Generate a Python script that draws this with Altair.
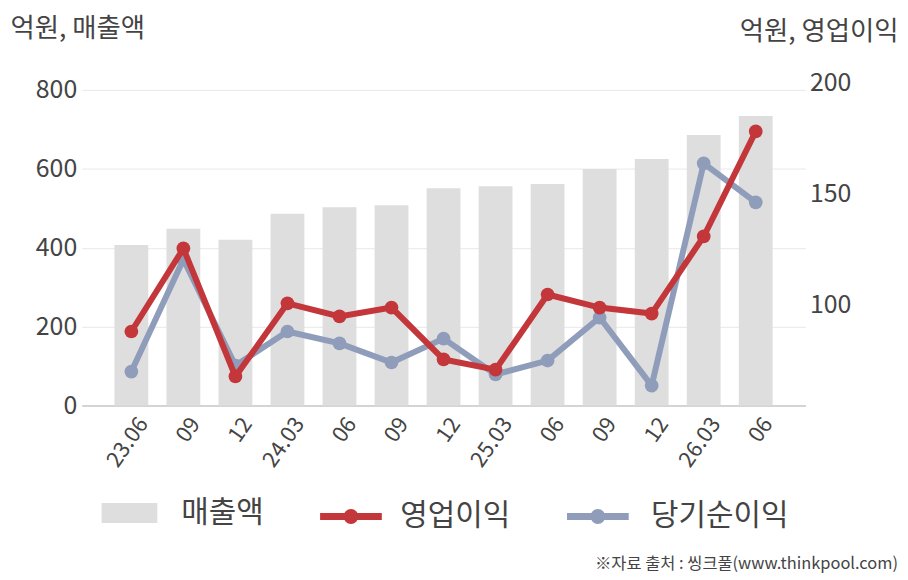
import altair as alt
import pandas as pd

FONT = "Noto Sans CJK KR"
TXT = "#444444"

quarters = ["2023.06", "2023.09", "2023.12", "2024.03", "2024.06", "2024.09", "2024.12",
            "2025.03", "2025.06", "2025.09", "2025.12", "2026.03", "2026.06"]
tick_labels = ["23.06", "09", "12", "24.03", "06", "09", "12",
               "25.03", "06", "09", "12", "26.03", "06"]
sales = [407, 448, 420, 486, 503, 508, 551, 556, 562, 600, 625, 686, 734]
op_profit = [87.8, 125.3, 67.5, 100.5, 94.6, 98.6, 75.2, 70.6, 104.5, 98.6, 95.9, 130.7, 178.1]
net_income = [69.7, 120.3, 72.4, 87.8, 82.4, 73.8, 84.6, 68.4, 74.7, 94.1, 63.4, 163.7, 146.1]
left_ticks = [0, 200, 400, 600, 800]
right_ticks = [100, 150, 200]

C_BAR = "#dedede"
C_OP = "#c3373a"
C_NI = "#8f9dbb"

df_bar = pd.DataFrame({"quarter": quarters, "value": sales, "series": "매출액"})
df_op = pd.DataFrame({"quarter": quarters, "value": op_profit, "series": "영업이익"})
df_ni = pd.DataFrame({"quarter": quarters, "value": net_income, "series": "당기순이익"})

q_js = "[" + ",".join("'%s'" % q for q in quarters) + "]"
l_js = "[" + ",".join("'%s'" % l for l in tick_labels) + "]"

x_enc = alt.X(
    "quarter:N",
    sort=quarters,
    scale=alt.Scale(domain=quarters, paddingInner=0.35, paddingOuter=0.63),
    axis=alt.Axis(
        title=None,
        labelExpr=l_js + "[indexof(" + q_js + ", datum.value)]",
        labelAngle=-55,
        labelAlign="right",
        labelBaseline="middle",
        labelFontSize=22,
        labelFont=FONT,
        labelColor=TXT,
        labelPadding=14,
        labelOffset=12,
        ticks=False,
        grid=False,
        domainColor="#b5b5b5",
        domainWidth=1,
    ),
)

RECT_PATH = "M-1,-0.357H1V0.357H-1Z"
LINE_DOT = "M-1,0H1M-0.13,0A0.13,0.13,0,1,0,0.13,0A0.13,0.13,0,1,0,-0.13,0Z"

def legend_for(x, y, path, size, sw, color, offset):
    return alt.Legend(
        title=None,
        orient="none",
        legendX=x,
        legendY=y,
        padding=0,
        symbolType=path,
        symbolSize=size,
        symbolStrokeWidth=sw,
        symbolFillColor=color,
        symbolStrokeColor=color,
        symbolOpacity=1,
        labelFontSize=30,
        labelFont=FONT,
        labelColor=TXT,
        labelOffset=offset,
        labelLimit=300,
    )

bars = alt.Chart(df_bar).mark_bar().encode(
    x=x_enc,
    y=alt.Y(
        "value:Q",
        scale=alt.Scale(domain=[0, 818], nice=False, zero=True),
        axis=alt.Axis(
            values=left_ticks,
            grid=True,
            gridColor="#e8e8e8",
            domain=False,
            ticks=False,
            labelFontSize=25,
            labelFont=FONT,
            labelColor=TXT,
            labelPadding=5,
            title="억원, 매출액",
            titleAngle=0,
            titleAlign="left",
            titleBaseline="middle",
            titleX=-72,
            titleY=-55,
            titleFontSize=26.5,
            titleFont=FONT,
            titleFontWeight="normal",
            titleColor=TXT,
        ),
    ),
    color=alt.Color("series:N", scale=alt.Scale(domain=["매출액"], range=[C_BAR]),
                    legend=legend_for(20, 404, RECT_PATH, 3136, 0, C_BAR, 24)),
)

y_right = alt.Scale(domain=[54.4, 200], nice=False, zero=False)

def series_layer(df, color, legend, axis):
    col = alt.Color("series:N", scale=alt.Scale(domain=[df["series"][0]], range=[color]),
                    legend=legend)
    y = alt.Y("value:Q", scale=y_right, axis=axis)
    line = alt.Chart(df).mark_line(strokeWidth=6).encode(x=x_enc, y=y, color=col)
    pts = alt.Chart(df).mark_point(filled=True, size=190, opacity=1).encode(x=x_enc, y=y, color=col)
    return alt.layer(line, pts)

right_axis = alt.Axis(
    orient="right",
    values=right_ticks,
    grid=False,
    domain=False,
    ticks=False,
    labelFontSize=25,
    labelFont=FONT,
    labelColor=TXT,
    labelPadding=4,
    title="억원, 영업이익",
    titleAngle=0,
    titleAlign="right",
    titleBaseline="middle",
    titleX=93,
    titleY=-52,
    titleFontSize=26.5,
    titleFont=FONT,
    titleFontWeight="normal",
    titleColor=TXT,
)

ni_layer = series_layer(df_ni, C_NI, legend_for(484, 401, LINE_DOT, 3844, 7, C_NI, 19), None)
op_layer = series_layer(df_op, C_OP, legend_for(236, 401, LINE_DOT, 3844, 7, C_OP, 15), right_axis)

chart = alt.layer(bars, ni_layer, op_layer).resolve_scale(
    y="independent", color="independent"
).properties(
    width=727,
    height=324,
    padding={"left": 74, "top": 74, "right": 95, "bottom": 168},
    autosize=alt.AutoSizeParams(type="none"),
    title=alt.TitleParams(
        text="※자료 출처 : 씽크풀(www.thinkpool.com)",
        orient="bottom",
        anchor="end",
        fontSize=16.5,
        font=FONT,
        color=TXT,
        fontWeight="normal",
        offset=21,
    ),
).configure_view(stroke=None)

chart.save("out.html", embed_options={"renderer": "svg", "actions": False})
